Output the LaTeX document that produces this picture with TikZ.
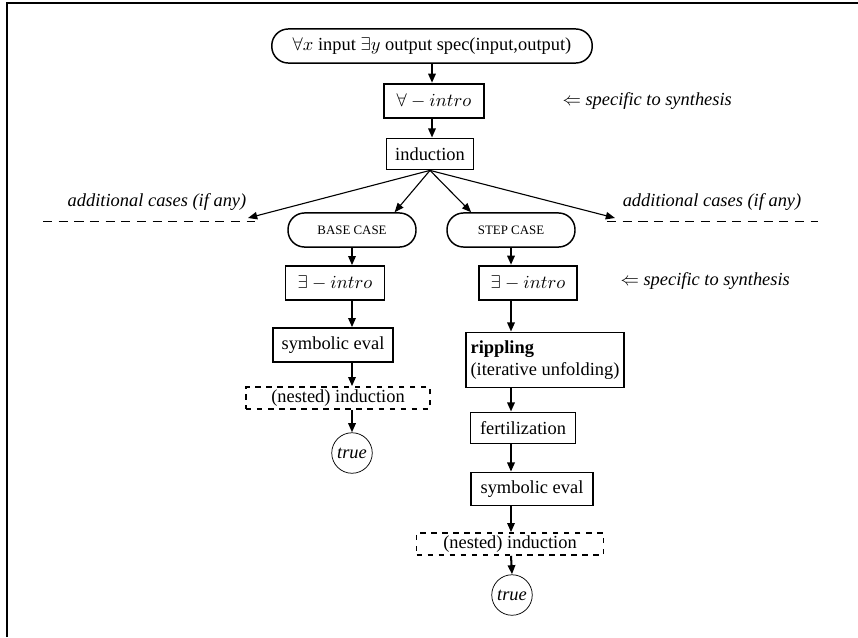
\documentclass[tikz,border=0pt]{standalone}
\usepackage{fontspec}
\setmainfont{Liberation Serif}
\usetikzlibrary{arrows.meta,positioning,calc}

\begin{document}
\begin{tikzpicture}[x=0.543pt, y=-0.543pt,
  every node/.style={font=\normalsize},
  pill/.style={rectangle, draw, thick, rounded corners=9pt, minimum height=18.5pt, inner sep=0pt},
  stepbox/.style={rectangle, draw, line width=0.8pt, minimum height=18pt, inner sep=0pt},
  synbox/.style={rectangle, draw, line width=1.2pt, minimum height=18.5pt, inner sep=0pt},
  nestbox/.style={rectangle, draw, dashed, line width=0.8pt, minimum height=12pt, inner sep=0pt},
  truenode/.style={circle, draw, thin, minimum size=22pt, inner sep=0pt, font=\itshape},
  flow/.style={line width=1.1pt, -{Triangle[width=4pt,length=5pt]}},
  split/.style={semithick, -{Triangle[width=4pt,length=5pt]}},
  sidenote/.style={anchor=west, font=\itshape},
  cut/.style={dash pattern=on 5pt off 3.5pt, thin},
]
\useasboundingbox (0,0) rectangle (858,637);
\draw[line width=1.1pt] (7,637) -- (7,3) -- (858,3);

% common part
\node[pill, minimum width=174pt] (spec) at (432,46) {$\forall x$ input $\exists y$ output spec(input,output)};
\node[synbox, minimum width=54pt] (allintro) at (434,101) {$\forall - intro$};
\node[stepbox, minimum width=47pt, minimum height=17pt] (ind) at (430,154) {induction};
\node[sidenote] (note1) at (556,101) {$\Leftarrow$ specific to synthesis};
\draw[flow] (spec.south) -- (spec.south |- allintro.north);
\draw[flow] (spec.south |- allintro.south) -- (spec.south |- ind.north);

% cases
\node[pill, minimum width=69.5pt, font=\scriptsize] (base) at (352,230) {BASE CASE};
\node[pill, minimum width=69.5pt, font=\scriptsize] (step) at (511,230) {STEP CASE};
\coordinate (laddl) at (248,218);
\coordinate (raddl) at (615,218);
\draw[cut] (43,221) -- (255,221);
\draw[cut] (607,221) -- (818,221);
\node[font=\itshape] (ladd) at (157,202) {additional cases (if any)};
\node[font=\itshape] (radd) at (712,202) {additional cases (if any)};
\draw[split] (ind.south) -- (laddl);
\draw[split] (ind.south) -- ([xshift=-12pt]base.north east);
\draw[split] (ind.south) -- ([xshift=13.5pt]step.north west);
\draw[split] (ind.south) -- (raddl);

% base case
\node[stepbox, minimum width=54pt, minimum height=18.5pt] (bintro) at (335,283) {$\exists - intro$};
\node[stepbox, minimum width=65pt, minimum height=18.5pt] (beval) at (333,345) {symbolic eval};
\node[nestbox, minimum width=100pt] (bnest) at (338,398) {(nested) induction};
\node[truenode] (btrue) at (352,453) {true};
\draw[flow] (base.south) -- (base.south |- bintro.north);
\draw[flow] (base.south |- bintro.south) -- (base.south |- beval.north);
\draw[flow] (base.south |- beval.south) -- (base.south |- bnest.north);
\draw[flow] (base.south |- bnest.south) -- (btrue.north);

% step case
\node[synbox, minimum width=53pt] (sintro) at (528,283) {$\exists - intro$};
\node[sidenote] (note2) at (614,281) {$\Leftarrow$ specific to synthesis};
\node[stepbox, minimum width=79pt, minimum height=30pt, align=left, inner xsep=2.5pt] (ripple) at (545,360) {\textbf{rippling}\\(iterative unfolding)};
\node[stepbox, minimum width=57pt, minimum height=17pt] (fert) at (523,428) {fertilization};
\node[stepbox, minimum width=66pt] (seval) at (532,489) {symbolic eval};
\node[nestbox, minimum width=101.5pt] (snest) at (510,544) {(nested) induction};
\node[truenode] (strue) at (512,595) {true};
\draw[flow] (step.south) -- (step.south |- sintro.north);
\draw[flow] (step.south |- sintro.south) -- (step.south |- ripple.north);
\draw[flow] (step.south |- ripple.south) -- (step.south |- fert.north);
\draw[flow] (step.south |- fert.south) -- (step.south |- seval.north);
\draw[flow] (step.south |- seval.south) -- (step.south |- snest.north);
\draw[flow] (step.south |- snest.south) -- (strue.north);
\end{tikzpicture}
\end{document}
